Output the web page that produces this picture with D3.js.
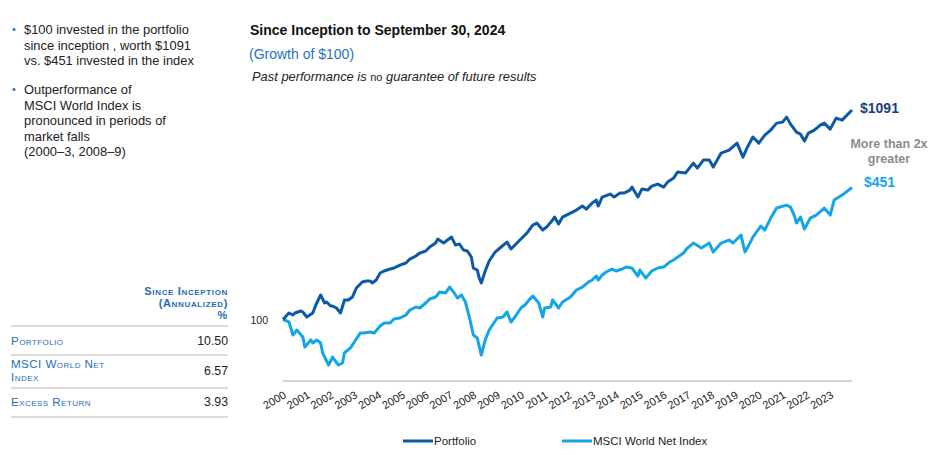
<!DOCTYPE html>
<html><head><meta charset="utf-8">
<script src="https://cdn.jsdelivr.net/npm/d3@7"></script>
<style>
body{margin:0;background:#fff}
svg{font-family:"Liberation Sans",Arial,Helvetica,sans-serif}
</style>
</head><body>
<svg id="c" width="933" height="455"></svg>
<script>
// ---- data (growth of $100, months since inception, Oct 2000 = 0) ----
const yearLabels = ["2000","2001","2002","2003","2004","2005","2006","2007","2008","2009","2010","2011",
  "2012","2013","2014","2015","2016","2017","2018","2019","2020","2021","2022","2023"];

const portfolioMonths = [0,3,5,6,9,10,12,15,17,19,21,22,24,25,27,29,31,33,35,37,40,42,44,45,47,49,51,54,56,59,
  62,64,67,69,72,74,77,78,81,83,85,87,89,91,93,95,96,98,99,100,102,104,107,110,113,115,118,121,123,126,
  128,131,133,136,137,139,141,145,148,151,153,156,158,159,161,165,167,170,172,175,176,179,181,184,186,189,
  192,194,197,199,203,207,209,212,215,217,221,225,229,232,234,237,240,243,246,249,252,254,256,259,261,263,
  265,268,271,273,276,279,282,287];
const portfolioValues = [100,107.7,105.3,107.7,110.2,108.9,102.9,107.7,120.7,132.2,120.7,122.1,116.6,116.6,114.0,
  107.7,124.9,124.9,129.2,143.2,153.3,155.1,155.1,151.6,156.9,169.9,173.9,177.8,179.9,186.1,
  190.4,199.3,206.3,213.4,218.4,228.6,239.2,250.3,239.2,247.5,256.1,233.8,236.5,220.9,218.4,203.9,179.9,175.8,160.5,151.6,
  173.9,194.8,215.9,228.6,241.9,223.4,239.2,256.1,268.0,293.6,
  300.4,277.4,287.0,310.9,321.7,297.0,321.7,336.7,348.4,364.7,352.4,377.4,390.5,364.7,404.1,418.2,404.1,423.0,423.0,437.7,
  452.9,404.1,442.6,437.7,458.1,468.7,
  452.9,479.5,501.8,537.4,531.2,595.5,562.3,616.2,616.2,568.9,667.3,690.5,747.9,637.5,706.4,801.2,747.9,819.7,867.6,939.4,
  950.1,1005.8,928.7,847.8,828.7,765.2,
  838.1,867.6,918.3,939.4,877.3,994.3,971.9,1091];

const indexMonths = [0,3,5,7,10,11,14,15,17,19,20,23,25,26,28,30,31,34,36,39,41,44,46,49,51,54,56,59,62,64,
  67,69,72,74,77,79,82,84,86,88,90,92,94,96,98,100,102,104,108,111,113,115,117,120,122,125,126,129,131,132,
  135,136,139,141,145,148,151,154,156,158,159,161,163,166,168,171,173,176,179,180,183,186,189,192,195,197,
  202,204,207,211,215,217,221,225,227,231,233,235,237,241,243,246,249,254,256,258,259,261,263,266,269,273,
  276,278,282,287];
const indexValues = [100,97.2,83.8,88.7,81.9,73.1,79.2,76.5,79.2,76.5,68.3,59.5,65.2,63.0,59.5,60.9,68.3,72.3,77.4,85.8,
  85.8,86.7,85.8,92.9,96.1,96.1,100.6,101.7,105.3,111.4,
  115.3,114.0,120.7,126.3,129.2,136.8,135.3,144.8,136.8,127.8,132.2,122.1,102.9,83.8,81.0,66.7,79.2,88.7,101.7,102.9,
  108.9,97.2,102.9,114.0,118.0,127.8,130.7,120.7,102.9,114.0,
  115.3,124.9,114.0,122.1,129.2,140.0,144.8,153.3,156.9,164.2,156.9,166.1,171.9,177.8,173.9,177.8,181.9,179.9,164.2,175.8,
  160.5,173.9,179.9,181.9,192.6,197.1,
  213.4,225.9,239.2,225.9,239.2,215.9,239.2,247.5,239.2,262.0,215.9,233.8,256.1,290.3,277.4,318.1,356.5,368.8,360.6,325.4,
  300.4,321.7,280.5,318.1,329.1,356.5,
  329.1,390.5,413.4,451];

const bullets = [
  ["$100 invested in the portfolio","since inception , worth $1091","vs. $451 invested in the index"],
  ["Outperformance of","MSCI World Index is","pronounced in periods of","market falls","(2000\u20133, 2008\u20139)"]
];
const tableHeader = ["Since Inception","(Annualized)","%"];
const tableLabels = [["Portfolio"],["MSCI World Net","Index"],["Excess Return"]];
const tableValues = ["10.50","6.57","3.93"];
const seriesNames = ["Portfolio","MSCI World Net Index"];
const endLabels = ["$1091","$451"];

// ---- drawing ----
const DARK = "#0c5aa6", LIGHT = "#14a5e6", TEXTBLUE = "#1f6db5";
const svg = d3.select("#c");

// bullets
let by = [34, 94];
bullets.forEach((lines, bi) => {
  svg.append("text").attr("x", 12).attr("y", by[bi] - 1).attr("font-size", 11).attr("fill", TEXTBLUE).text("\u2022");
  lines.forEach((t, li) => {
    svg.append("text").attr("x", 24).attr("y", by[bi] + li * 15.6).attr("font-size", 12.9)
      .attr("fill", "#222").text(t);
  });
});

// table
const tRight = 228, tLeft = 11;
const hdr = svg.append("g").attr("font-weight", "bold").attr("fill", TEXTBLUE)
  .attr("text-anchor", "end").style("font-variant", "small-caps");
tableHeader.forEach((t, i) => {
  hdr.append("text").attr("x", tRight).attr("y", 295 + i * 12).attr("font-size", 11)
    .attr("letter-spacing", 0.65).text(t);
});
[326, 355, 388, 417].forEach(y => {
  svg.append("line").attr("x1", tLeft).attr("x2", tRight).attr("y1", y).attr("y2", y)
    .attr("stroke", "#cfcfcf").attr("stroke-width", 1.5);
});
const labelY = [[345], [367.5, 380.5], [406]];
const valueY = [345, 375, 406];
tableLabels.forEach((lines, i) => {
  lines.forEach((t, li) => {
    svg.append("text").attr("x", tLeft).attr("y", labelY[i][li])
      .attr("font-size", 11.6).attr("letter-spacing", 0.45).attr("fill", TEXTBLUE)
      .style("font-variant", "small-caps").text(t);
  });
  svg.append("text").attr("x", tRight).attr("y", valueY[i]).attr("text-anchor", "end")
    .attr("font-size", 12.3).attr("fill", "#222").text(tableValues[i]);
});

// titles
svg.append("text").attr("x", 250).attr("y", 35).attr("font-size", 14).attr("font-weight", "bold")
  .attr("fill", "#111").text("Since Inception to September 30, 2024");
svg.append("text").attr("x", 249).attr("y", 59).attr("font-size", 14).attr("fill", "#1f73c4").text("(Growth of $100)");
const pp = svg.append("text").attr("x", 252).attr("y", 81).attr("font-size", 12.9).attr("fill", "#222");
pp.append("tspan").attr("font-style", "italic").text("Past performance is ");
pp.append("tspan").attr("font-size", 11).text("no");
pp.append("tspan").attr("font-style", "italic").text(" guarantee of future results");

// scales
const x = d3.scaleLinear().domain([0, 287]).range([283, 852]);
const y = d3.scaleLog().domain([100, 1091]).range([319.5, 110]);

// x axis
svg.append("line").attr("x1", 283).attr("x2", 852).attr("y1", 381).attr("y2", 381)
  .attr("stroke", "#a6a6a6").attr("stroke-width", 1);
yearLabels.forEach((t, i) => {
  const px = x(i * 12);
  svg.append("text").attr("transform", `translate(${px + 4},${397}) rotate(-31)`)
    .attr("text-anchor", "end").attr("font-size", 11).attr("fill", "#222").text(t);
});
// y label 100
svg.append("text").attr("x", 268).attr("y", 324).attr("text-anchor", "end").attr("font-size", 10.5)
  .attr("fill", "#222").text("100");

// lines
const line = d3.line().x(d => x(d[0])).y(d => y(d[1])).curve(d3.curveLinear);
const idxData = indexMonths.map((m, i) => [m, indexValues[i]]);
const pfData = portfolioMonths.map((m, i) => [m, portfolioValues[i]]);
svg.append("path").datum(idxData).attr("d", line).attr("fill", "none").attr("stroke", LIGHT)
  .attr("stroke-width", 3).attr("stroke-linejoin", "round");
svg.append("path").datum(pfData).attr("d", line).attr("fill", "none").attr("stroke", DARK)
  .attr("stroke-width", 3).attr("stroke-linejoin", "round");

// end labels
svg.append("text").attr("x", 860).attr("y", y(1091) + 3).attr("font-size", 14).attr("font-weight", "bold")
  .attr("fill", "#1b3f7e").text(endLabels[0]);
svg.append("text").attr("x", 864).attr("y", y(451) - 0).attr("font-size", 14).attr("font-weight", "bold")
  .attr("fill", "#18a8e8").text(endLabels[1]);
svg.append("text").attr("x", 889).attr("y", 148).attr("text-anchor", "middle").attr("font-size", 12.5)
  .attr("font-weight", "bold").attr("fill", "#8c8c8c").text("More than 2x");
svg.append("text").attr("x", 889).attr("y", 163).attr("text-anchor", "middle").attr("font-size", 12.5)
  .attr("font-weight", "bold").attr("fill", "#8c8c8c").text("greater");

// legend
const legX = [403, 562], legC = [DARK, LIGHT];
seriesNames.forEach((n, i) => {
  svg.append("line").attr("x1", legX[i]).attr("x2", legX[i] + 30).attr("y1", 441).attr("y2", 441)
    .attr("stroke", legC[i]).attr("stroke-width", 3);
  svg.append("text").attr("x", legX[i] + 31).attr("y", 445).attr("font-size", 11.5).attr("fill", "#222").text(n);
});
</script>
</body></html>
